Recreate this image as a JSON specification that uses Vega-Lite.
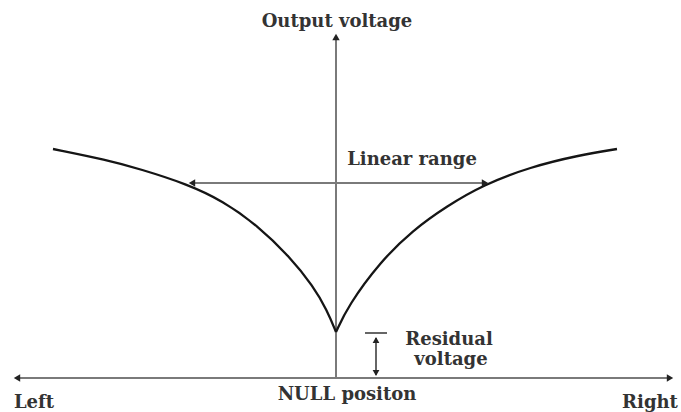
{
  "$schema": "https://vega.github.io/schema/vega-lite/v6.json",
  "width": 681,
  "height": 412,
  "padding": 0,
  "autosize": {"type": "fit", "contains": "padding"},
  "background": "white",
  "config": {"view": {"stroke": null}},
  "datasets": {
    "curve": [
      {"branch": "left", "x": -283, "y": 229},
      {"branch": "left", "x": -229, "y": 218},
      {"branch": "left", "x": -196, "y": 209},
      {"branch": "left", "x": -149, "y": 194},
      {"branch": "left", "x": -113, "y": 177},
      {"branch": "left", "x": -79, "y": 153},
      {"branch": "left", "x": -46, "y": 121},
      {"branch": "left", "x": -23, "y": 92},
      {"branch": "left", "x": -9, "y": 68},
      {"branch": "left", "x": 0, "y": 46},
      {"branch": "right", "x": 0, "y": 46},
      {"branch": "right", "x": 12, "y": 72},
      {"branch": "right", "x": 44, "y": 116},
      {"branch": "right", "x": 77, "y": 148},
      {"branch": "right", "x": 111, "y": 172},
      {"branch": "right", "x": 147, "y": 193},
      {"branch": "right", "x": 194, "y": 211},
      {"branch": "right", "x": 244, "y": 223},
      {"branch": "right", "x": 281, "y": 229}
    ],
    "segments": [
      {"kind": "axis", "seg": "horizontal", "x": -319, "y": 0},
      {"kind": "axis", "seg": "horizontal", "x": 334, "y": 0},
      {"kind": "axis", "seg": "vertical", "x": 0, "y": 0},
      {"kind": "axis", "seg": "vertical", "x": 0, "y": 341},
      {"kind": "axis", "seg": "linear", "x": -144, "y": 195},
      {"kind": "axis", "seg": "linear", "x": 149, "y": 195},
      {"kind": "residual", "seg": "bar", "x": 29, "y": 45},
      {"kind": "residual", "seg": "bar", "x": 51, "y": 45},
      {"kind": "residual", "seg": "arrow", "x": 40, "y": 3},
      {"kind": "residual", "seg": "arrow", "x": 40, "y": 40}
    ],
    "heads": [
      {"kind": "axis", "dir": "left", "x": -319, "y": 0},
      {"kind": "axis", "dir": "right", "x": 334, "y": 0},
      {"kind": "axis", "dir": "up", "x": 0, "y": 341},
      {"kind": "axis", "dir": "left", "x": -144, "y": 195},
      {"kind": "axis", "dir": "right", "x": 149, "y": 195},
      {"kind": "residual", "dir": "up", "x": 40, "y": 38},
      {"kind": "residual", "dir": "down", "x": 40, "y": 5}
    ],
    "labels": [
      {"text": "Output voltage", "x": 1, "y": 351},
      {"text": "Linear range", "x": 76, "y": 213},
      {"text": "Residual", "x": 113, "y": 33},
      {"text": "voltage", "x": 115, "y": 13},
      {"text": "NULL positon", "x": 11, "y": -22},
      {"text": "Left", "x": -302, "y": -30},
      {"text": "Right", "x": 314, "y": -30}
    ]
  },
  "encoding": {
    "x": {"field": "x", "type": "quantitative", "scale": {"domain": [-336, 345], "nice": false, "zero": false}, "axis": null},
    "y": {"field": "y", "type": "quantitative", "scale": {"domain": [-34, 378], "nice": false, "zero": false}, "axis": null}
  },
  "layer": [
    {
      "data": {"name": "segments"},
      "transform": [{"filter": "datum.kind === 'axis'"}],
      "mark": {"type": "line", "color": "#7a7a7a", "strokeWidth": 2},
      "encoding": {"detail": {"field": "seg"}}
    },
    {
      "data": {"name": "segments"},
      "transform": [{"filter": "datum.kind === 'residual'"}],
      "mark": {"type": "line", "color": "#333333", "strokeWidth": 1.5},
      "encoding": {"detail": {"field": "seg"}}
    },
    {
      "data": {"name": "curve"},
      "mark": {"type": "line", "color": "#151515", "strokeWidth": 2.3, "interpolate": "basis"},
      "encoding": {"detail": {"field": "branch"}}
    },
    {
      "data": {"name": "heads"},
      "mark": {"type": "point", "filled": true, "color": "#222222", "opacity": 1},
      "encoding": {
        "shape": {"field": "dir", "type": "nominal", "scale": {"domain": ["up", "down", "left", "right"], "range": ["triangle-up", "triangle-down", "triangle-left", "triangle-right"]}, "legend": null},
        "size": {"field": "kind", "type": "nominal", "scale": {"domain": ["axis", "residual"], "range": [55, 45]}, "legend": null}
      }
    },
    {
      "data": {"name": "labels"},
      "mark": {"type": "text", "font": "DejaVu Serif", "fontSize": 18, "fontWeight": "bold", "color": "#333333", "align": "center", "baseline": "alphabetic"},
      "encoding": {"text": {"field": "text"}}
    }
  ]
}
